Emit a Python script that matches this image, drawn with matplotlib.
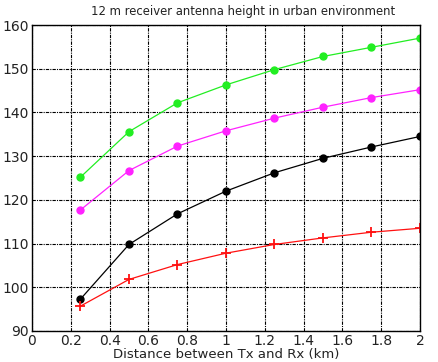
import matplotlib
matplotlib.use("Agg")
import matplotlib.pyplot as plt

distance = [0.25, 0.5, 0.75, 1.0, 1.25, 1.5, 1.75, 2.0]
green = [125.2, 135.6, 142.2, 146.3, 149.8, 152.8, 154.9, 157.0]
magenta = [117.7, 126.7, 132.3, 135.8, 138.7, 141.2, 143.4, 145.2]
black = [97.3, 109.8, 116.8, 122.0, 126.2, 129.5, 132.1, 134.5]
red = [95.7, 101.8, 105.2, 107.8, 109.8, 111.3, 112.6, 113.5]

xticks = [0, 0.2, 0.4, 0.6, 0.8, 1, 1.2, 1.4, 1.6, 1.8, 2]
xtick_labels = ["0", "0.2", "0.4", "0.6", "0.8", "1", "1.2", "1.4", "1.6", "1.8", "2"]
yticks = [90, 100, 110, 120, 130, 140, 150, 160]

fig = plt.figure(figsize=(4.39, 3.62), dpi=100)
ax = fig.add_axes([32/439, 1 - 331/362, (420-32)/439, (331-25)/362])

ax.plot(distance, green, color="#22ee22", lw=0.9, marker="o", ms=5)
ax.plot(distance, magenta, color="#ff22ff", lw=0.9, marker="o", ms=5)
ax.plot(distance, black, color="black", lw=0.9, marker="o", ms=5)
ax.plot(distance, red, color="#ff1111", lw=0.9, marker="+", ms=7, mew=1.3)

ax.set_xlim(0, 2)
ax.set_ylim(90, 160)
ax.set_xticks(xticks)
ax.set_xticklabels(xtick_labels)
ax.set_yticks(yticks)
ax.tick_params(length=0, labelsize=10, pad=2, colors="#222222")
ax.grid(True, color="black", linestyle=(0, (3, 1, 1, 1)), lw=0.8)
for s in ax.spines.values():
    s.set_linewidth(1.0)
ax.set_xlabel("Distance between Tx and Rx (km)", fontsize=9.5, labelpad=0, color="#222222")
ax.set_title("12 m receiver antenna height in urban environment", fontsize=8.4, pad=7,
             color="#222222", x=(243 - 32) / 388)

fig.savefig("out.png", dpi=100)
